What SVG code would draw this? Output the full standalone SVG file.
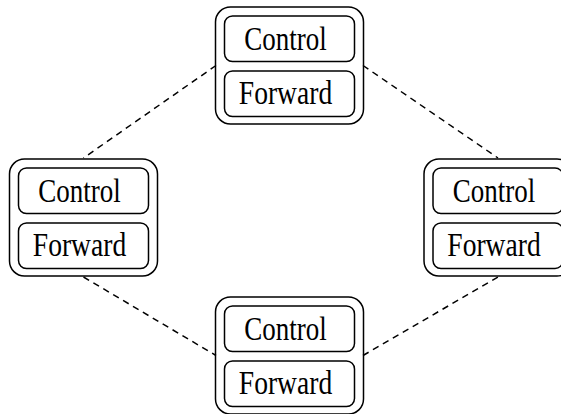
<svg xmlns="http://www.w3.org/2000/svg" width="561" height="414" viewBox="0 0 561 414">
<style>
.outer{fill:none;stroke:#000;stroke-width:1.5}
.inner{fill:#fff;stroke:#000;stroke-width:1.5}
.lbl{font-family:"Liberation Serif","DejaVu Serif",serif;font-size:27px;fill:#000;text-anchor:middle}
.edge{fill:none;stroke:#000;stroke-width:1.5;stroke-dasharray:6.5,5}
</style>
<defs>
<g id="nodeShape">
<rect class="outer" x="-74" y="-58.5" width="148" height="117" rx="15"/>
<rect class="inner" x="-65" y="-49.5" width="130" height="45.5" rx="8"/>
<rect class="inner" x="-65" y="5.5" width="130" height="45.5" rx="8"/>
<text class="lbl" transform="translate(-4,-15.3) scale(1,1.22)">Control</text>
<text class="lbl" transform="translate(-4,38.5) scale(1.02,1.22)">Forward</text>
</g>
</defs>
<g id="connectors">
<line class="edge" x1="216" y1="65.5" x2="83.5" y2="158"/>
<line class="edge" x1="363" y1="65.5" x2="498" y2="158"/>
<line class="edge" x1="83.5" y1="277" x2="216" y2="355.5"/>
<line class="edge" x1="363" y1="355.5" x2="498" y2="277"/>
</g>
<g id="node-top" transform="translate(289.5,65.5)"><use href="#nodeShape"/></g>
<g id="node-left" transform="translate(83.5,217.5)"><use href="#nodeShape"/></g>
<g id="node-right" transform="translate(498,217.5)"><use href="#nodeShape"/></g>
<g id="node-bottom" transform="translate(289.5,355.5)"><use href="#nodeShape"/></g>
</svg>
